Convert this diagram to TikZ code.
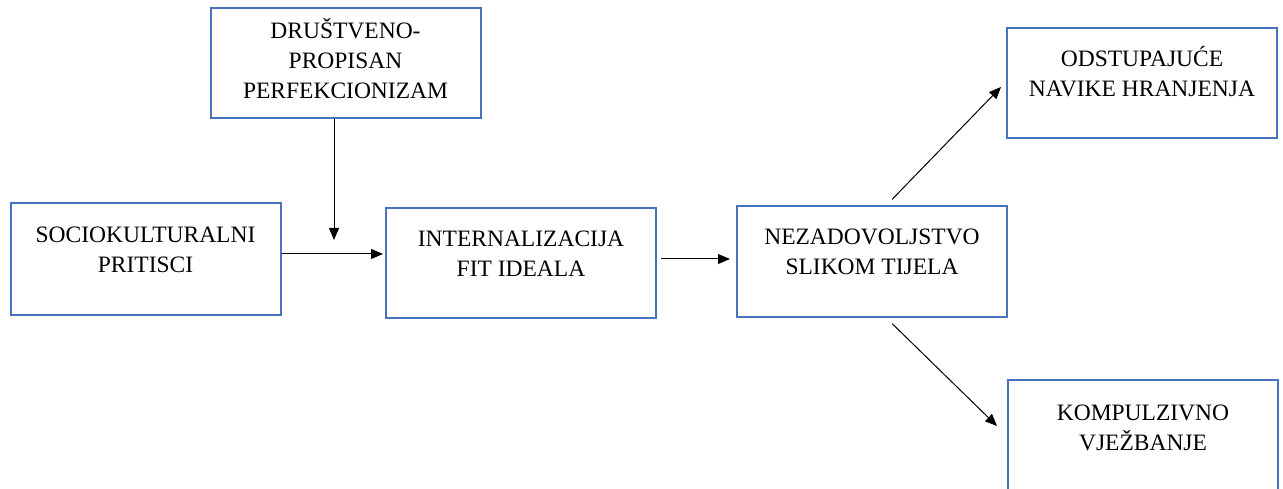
\documentclass[tikz,border=0pt]{standalone}
\usepackage{fontspec}
\setmainfont{Liberation Serif}
\usetikzlibrary{arrows.meta}
\definecolor{boxblue}{RGB}{72,114,190}
\newcommand{\boxtext}[2][15pt]{\raisebox{0pt}[\height][\dimexpr\depth+#1\relax]{\begin{tabular}{@{}c@{}}#2\end{tabular}}}

\begin{document}
\begin{tikzpicture}[x=1pt,y=-1pt,
  stage/.style={draw=boxblue,line width=2pt,fill=white,minimum width=270pt,
    minimum height=110pt,inner sep=0pt,font=\fontsize{23.5}{30}\selectfont},
  link/.style={-{Triangle[length=12pt,width=10pt]},line width=1pt}]
  \useasboundingbox (0,0) rectangle (1283,489);
  % boxes
  \node[stage] (drustveno) at (345.5,63) {\boxtext[0pt]{DRUŠTVENO-\\PROPISAN\\PERFEKCIONIZAM}};
  \node[stage,minimum height=112pt] (pritisci) at (145.5,259) {\boxtext{SOCIOKULTURALNI\\PRITISCI}};
  \node[stage] (ideal) at (521,263) {\boxtext{INTERNALIZACIJA\\FIT IDEALA}};
  \node[stage] (nezadovoljstvo) at (872,261.5) {\boxtext{NEZADOVOLJSTVO\\SLIKOM TIJELA}};
  \node[stage] (hranjenje) at (1142,83) {\boxtext{ODSTUPAJUĆE\\NAVIKE HRANJENJA}};
  \node[stage,minimum height=114pt] (vjezbanje) at (1143,437) {\boxtext{KOMPULZIVNO\\VJEŽBANJE}};
  % arrows
  \coordinate (moderator) at (334,240);
  \draw[link] (drustveno.south -| moderator) -- (moderator);
  \draw[link] ([yshift=5pt]pritisci.east) -- ([yshift=5pt,xshift=-2pt]pritisci.east -| ideal.west);
  \draw[link] ([xshift=4pt,yshift=4pt]ideal.east) -- ([xshift=-6pt,yshift=4pt]ideal.east -| nezadovoljstvo.west);
  \draw[link] ([xshift=20pt,yshift=6pt]nezadovoljstvo.north) -- ([xshift=-5pt,yshift=-4pt]hranjenje.west);
  \draw[link] ([xshift=20pt,yshift=-6pt]nezadovoljstvo.south) -- ([xshift=-10pt,yshift=11pt]vjezbanje.west);
\end{tikzpicture}
\end{document}
